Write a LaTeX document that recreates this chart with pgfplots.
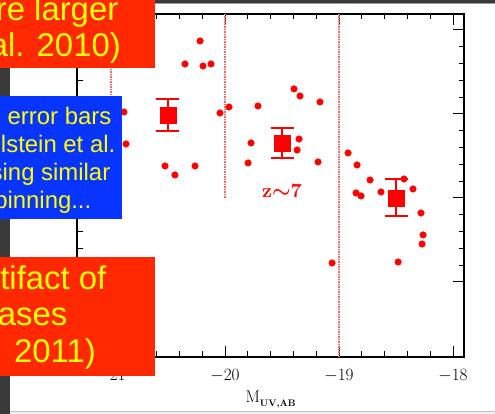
\documentclass[border=0pt]{standalone}
\usepackage{pgfplots}
\pgfplotsset{compat=1.18}
\usepackage{fontspec}
\newfontfamily\arial{Liberation Sans}
\definecolor{boxred}{RGB}{255,40,0}
\definecolor{boxblue}{RGB}{8,52,255}
\definecolor{txtyellow}{RGB}{255,255,0}
\definecolor{dotred}{RGB}{255,0,0}
\definecolor{lined}{RGB}{255,100,100}
\definecolor{strip}{RGB}{58,58,58}
\begin{document}
\begin{tikzpicture}
\begin{scope}
\clip (0,0) rectangle (495bp,414bp);
\fill[white] (0,0) rectangle (495bp,414bp);
\fill[black!6] (0,0) rectangle (495bp,3bp);
\draw[black!25, line width=0.9bp] (0,3bp) -- (495bp,3bp);
\fill[strip] (0,0) rectangle (10bp,414bp);
\fill[strip] (0,411bp) rectangle (495bp,414bp);
\draw[black!40, line width=0.9bp] (10bp,410.5bp) -- (495bp,410.5bp);
\begin{axis}[
  at={(77bp,57bp)}, anchor=south west,
  scale only axis, width=387bp, height=343bp,
  xmin=-21.298, xmax=-17.904,
  ymin=-4.893, ymax=-0.810,
  xtick={-21,-20,-19,-18},
  ytick={-4,-3,-2,-1},
  yticklabels={},
  minor x tick num=4, minor y tick num=4,
  tick align=inside,
  major tick length=11bp, minor tick length=5.5bp,
  every tick/.style={black, line width=1bp},
  axis line style={line width=1.7bp},
  xticklabel style={anchor=base, yshift=-23bp, font=\fontsize{17}{20}\selectfont},
  xlabel={\fontsize{17}{20}\selectfont M\raisebox{-4.5bp}{\fontsize{9.5}{11}\selectfont\bfseries UV,AB}},
  xlabel style={at={(axis description cs:0.5,0)}, anchor=base, yshift=-45bp, inner sep=0pt},
]
\addplot[draw=lined, line width=1.3bp, dash pattern=on 1.3bp off 1.2bp, forget plot] coordinates {(-21,-0.81) (-21,-3.0)};
\addplot[draw=lined, line width=1.3bp, dash pattern=on 1.3bp off 1.2bp, forget plot] coordinates {(-20,-0.81) (-20,-3.0)};
\addplot[draw=lined, line width=1.3bp, dash pattern=on 1.3bp off 1.2bp, forget plot] coordinates {(-19,-0.81) (-19,-4.893)};
\addplot[only marks, mark=*, mark size=3.3bp, dotred, mark options={draw=dotred, fill=dotred}] coordinates {
(-20.219,-1.131) (-20.351,-1.405) (-20.193,-1.429) (-20.123,-1.405)
(-20.886,-1.976) (-20.044,-1.988) (-19.965,-1.917) (-20.868,-2.357)
(-19.395,-1.702) (-19.342,-1.786) (-19.711,-1.905) (-19.167,-1.857)
(-19.351,-2.298) (-20.526,-2.619) (-20.439,-2.726) (-20.263,-2.619)
(-19.772,-2.345) (-19.798,-2.583) (-19.368,-2.429) (-19.184,-2.571)
(-18.921,-2.464) (-18.842,-2.607) (-18.728,-2.786) (-18.851,-2.940)
(-18.807,-2.976) (-18.632,-2.929) (-18.430,-2.774) (-18.351,-2.893)
(-18.281,-3.179) (-18.263,-3.440) (-18.272,-3.548) (-19.061,-3.774)
(-18.482,-3.762)
};
\addplot[only marks, mark=square*, mark size=7.9bp, dotred, mark options={draw=dotred, fill=dotred},
  error bars/.cd, y dir=both, y explicit,
  error bar style={line width=2bp, dotred},
  error mark options={dotred, rotate=90, mark size=11.5bp, line width=2bp}]
  coordinates {
  (-20.5,-2.012) +- (0,0.19)
  (-19.5,-2.345) +- (0,0.18)
  (-18.5,-3.0) +- (0,0.22)
};
\node[dotred, font=\fontsize{20}{22}\selectfont\bfseries\boldmath] at (axis cs:-19.5,-2.917) {z$\sim$7};
\end{axis}
% overlaid slide boxes
\fill[boxred] (0,346bp) rectangle (155bp,414bp);
\fill[boxblue] (0,195bp) rectangle (122bp,318bp);
\fill[boxred] (0,38bp) rectangle (155bp,157bp);
\begin{scope}[every node/.style={inner sep=0pt, anchor=base east, text=txtyellow}]
\node[font=\arial\fontsize{33}{36}\selectfont] at (118.5bp,393.3bp) {re larger};
\node[font=\arial\fontsize{33}{36}\selectfont] at (121bp,357.3bp) {al. 2010)};
\node[font=\arial\fontsize{24}{28}\selectfont] at (111.5bp,289.7bp) {error bars};
\node[font=\arial\fontsize{24}{28}\selectfont] at (115.5bp,261bp) {Finkelstein et al.};
\node[font=\arial\fontsize{24}{28}\selectfont] at (110.5bp,233bp) {using similar};
\node[font=\arial\fontsize{24}{28}\selectfont] at (91.5bp,205bp) {binning...};
\node[font=\arial\fontsize{33}{36}\selectfont] at (106.5bp,124bp) {tifact of};
\node[font=\arial\fontsize{33}{36}\selectfont] at (67.5bp,88bp) {ases};
\node[font=\arial\fontsize{33}{36}\selectfont] at (96bp,51bp) {al. 2011)};
\end{scope}
\end{scope}
\pgfresetboundingbox
\useasboundingbox (0,0) rectangle (495bp,414bp);
\end{tikzpicture}
\end{document}
